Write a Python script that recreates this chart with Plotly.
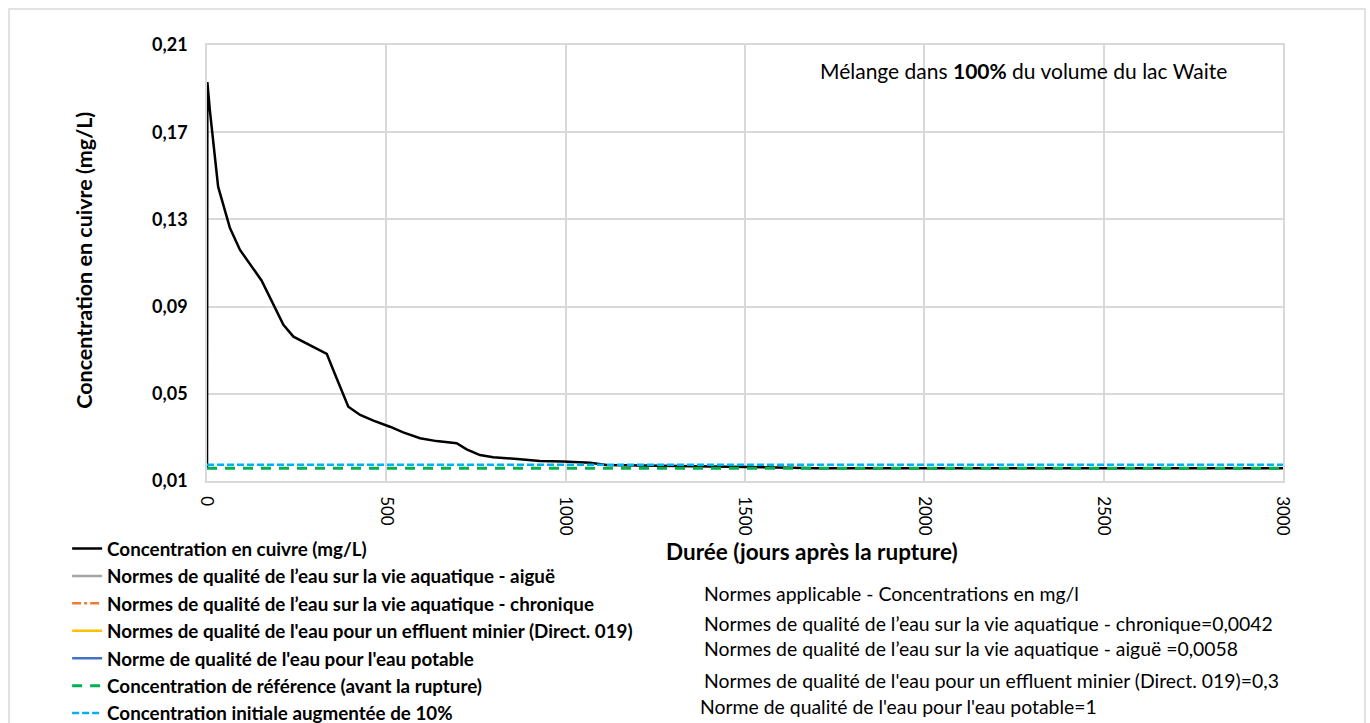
import plotly.graph_objects as go

# ---- data ----
days = [0, 1, 8, 31, 64, 92, 152, 213, 241, 278, 334, 352, 394, 427, 464, 510, 547,
        594, 640, 696, 724, 761, 798, 873, 928, 993, 1068, 1114, 1282, 1467, 1700, 2000,
        2500, 3000]
copper = [0.0158, 0.193, 0.180, 0.145, 0.126, 0.116, 0.102, 0.0816, 0.0762, 0.0732,
          0.0683, 0.0609, 0.0441, 0.0403, 0.0377, 0.0349, 0.0323, 0.0296, 0.0283, 0.0273,
          0.0245, 0.0219, 0.0209, 0.0200, 0.0192, 0.0189, 0.0184, 0.0173, 0.0169, 0.0163,
          0.0159, 0.0158, 0.0158, 0.0158]
x_span = [0, 3000]
norm_acute = 0.0058
norm_chronic = 0.0042
norm_mining = 0.3
norm_potable = 1.0
ref_conc = 0.0158
ref_plus10 = 0.0174

y_ticks = [0.01, 0.05, 0.09, 0.13, 0.17, 0.21]
x_ticks = [0, 500, 1000, 1500, 2000, 2500, 3000]

FONT = "Lato"

fig = go.Figure()
fig.add_trace(go.Scatter(x=days, y=copper, mode="lines", name="Concentration en cuivre (mg/L)",
                         line=dict(color="#000000", width=2.5)))
fig.add_trace(go.Scatter(x=x_span, y=[norm_acute] * 2, mode="lines",
                         name="Normes de qualité de l’eau sur la vie aquatique - aiguë",
                         line=dict(color="#A5A5A5", width=2.5)))
fig.add_trace(go.Scatter(x=x_span, y=[norm_chronic] * 2, mode="lines",
                         name="Normes de qualité de l’eau sur la vie aquatique - chronique",
                         line=dict(color="#ED7D31", width=2.5, dash="dashdot")))
fig.add_trace(go.Scatter(x=x_span, y=[norm_mining] * 2, mode="lines",
                         name="Normes de qualité de l'eau pour un effluent minier (Direct. 019)",
                         line=dict(color="#FFC000", width=2.5)))
fig.add_trace(go.Scatter(x=x_span, y=[norm_potable] * 2, mode="lines",
                         name="Norme de qualité de l'eau pour l'eau potable",
                         line=dict(color="#4472C4", width=2.5)))
fig.add_trace(go.Scatter(x=x_span, y=[ref_conc] * 2, mode="lines",
                         name="Concentration de référence (avant la rupture)",
                         line=dict(color="#00B050", width=3, dash="10px,8px")))
fig.add_trace(go.Scatter(x=x_span, y=[ref_plus10] * 2, mode="lines",
                         name="Concentration initiale augmentée de 10%",
                         line=dict(color="#00B0F0", width=2.5, dash="7px,3px")))

grid = "#D9D9D9"
fig.update_layout(
    width=1370, height=723,
    margin=dict(l=207, r=87, t=45, b=242, autoexpand=False),
    paper_bgcolor="white", plot_bgcolor="white",
    separators=", ",
    font=dict(family=FONT, color="#000000"),
    showlegend=True,
    legend=dict(x=-0.13, y=-0.1118, xanchor="left", yanchor="top",
                font=dict(family=FONT, size=18.8, color="#000000", weight="bold"),
                bgcolor="rgba(0,0,0,0)", traceorder="normal",
                tracegroupgap=0),
    xaxis=dict(range=[0, 3000], tickvals=x_ticks, tickangle=90,
               showgrid=True, gridcolor=grid, gridwidth=1.5,
               showline=True, linecolor=grid, linewidth=1.5, mirror=True,
               zeroline=False, ticks="", ticklabelstandoff=10,
               tickfont=dict(family=FONT, size=17, color="#000000")),
    yaxis=dict(range=[0.01, 0.21], tickvals=y_ticks, tickformat=".2f",
               showgrid=True, gridcolor=grid, gridwidth=1.5,
               showline=True, linecolor=grid, linewidth=1.5, mirror=True,
               zeroline=False, ticks="", ticklabelstandoff=14,
               tickfont=dict(family=FONT, size=18, color="#000000", weight="bold")),
)

fig.add_shape(type="rect", xref="paper", yref="paper",
              x0=-0.184, x1=1.0762, y0=-0.6, y1=1.0826,
              line=dict(color=grid, width=1.5), fillcolor="rgba(0,0,0,0)", layer="below")

ann = []
ann.append(dict(x=-0.1143, y=0.505, xref="paper", yref="paper", textangle=-90,
                xanchor="center", yanchor="middle",
                text="<b>Concentration en cuivre (mg/L)</b>", showarrow=False,
                font=dict(family=FONT, size=21.5, color="#000000")))
ann.append(dict(x=0.5623, y=-0.1606, xref="paper", yref="paper",
                xanchor="center", yanchor="middle",
                text="<b>Durée (jours après la rupture)</b>", showarrow=False,
                font=dict(family=FONT, size=22.5, color="#000000")))
ann.append(dict(x=0.7584, y=0.9404, xref="paper", yref="paper",
                xanchor="center", yanchor="middle",
                text="Mélange dans <b>100%</b> du volume du lac Waite", showarrow=False,
                font=dict(family=FONT, size=21, color="#000000")))
right_lines = [
    ("Normes applicable - Concentrations en mg/l", -0.257, 0.46),
    ("Normes de qualité de l’eau sur la vie aquatique - chronique=0,0042", -0.3257, 0.46),
    ("Normes de qualité de l’eau sur la vie aquatique - aiguë =0,0058", -0.385, 0.46),
    ("Normes de qualité de l'eau pour un effluent minier (Direct. 019)=0,3", -0.4587, 0.46),
    ("Norme de qualité de l'eau pour l'eau potable=1", -0.518, 0.4563),
]
for txt, yy, xx in right_lines:
    ann.append(dict(x=xx, y=yy, xref="paper", yref="paper", xanchor="left", yanchor="middle",
                    text=txt, showarrow=False,
                    font=dict(family=FONT, size=19.4, color="#000000")))
fig.update_layout(annotations=ann)

fig.write_html("out.html")
